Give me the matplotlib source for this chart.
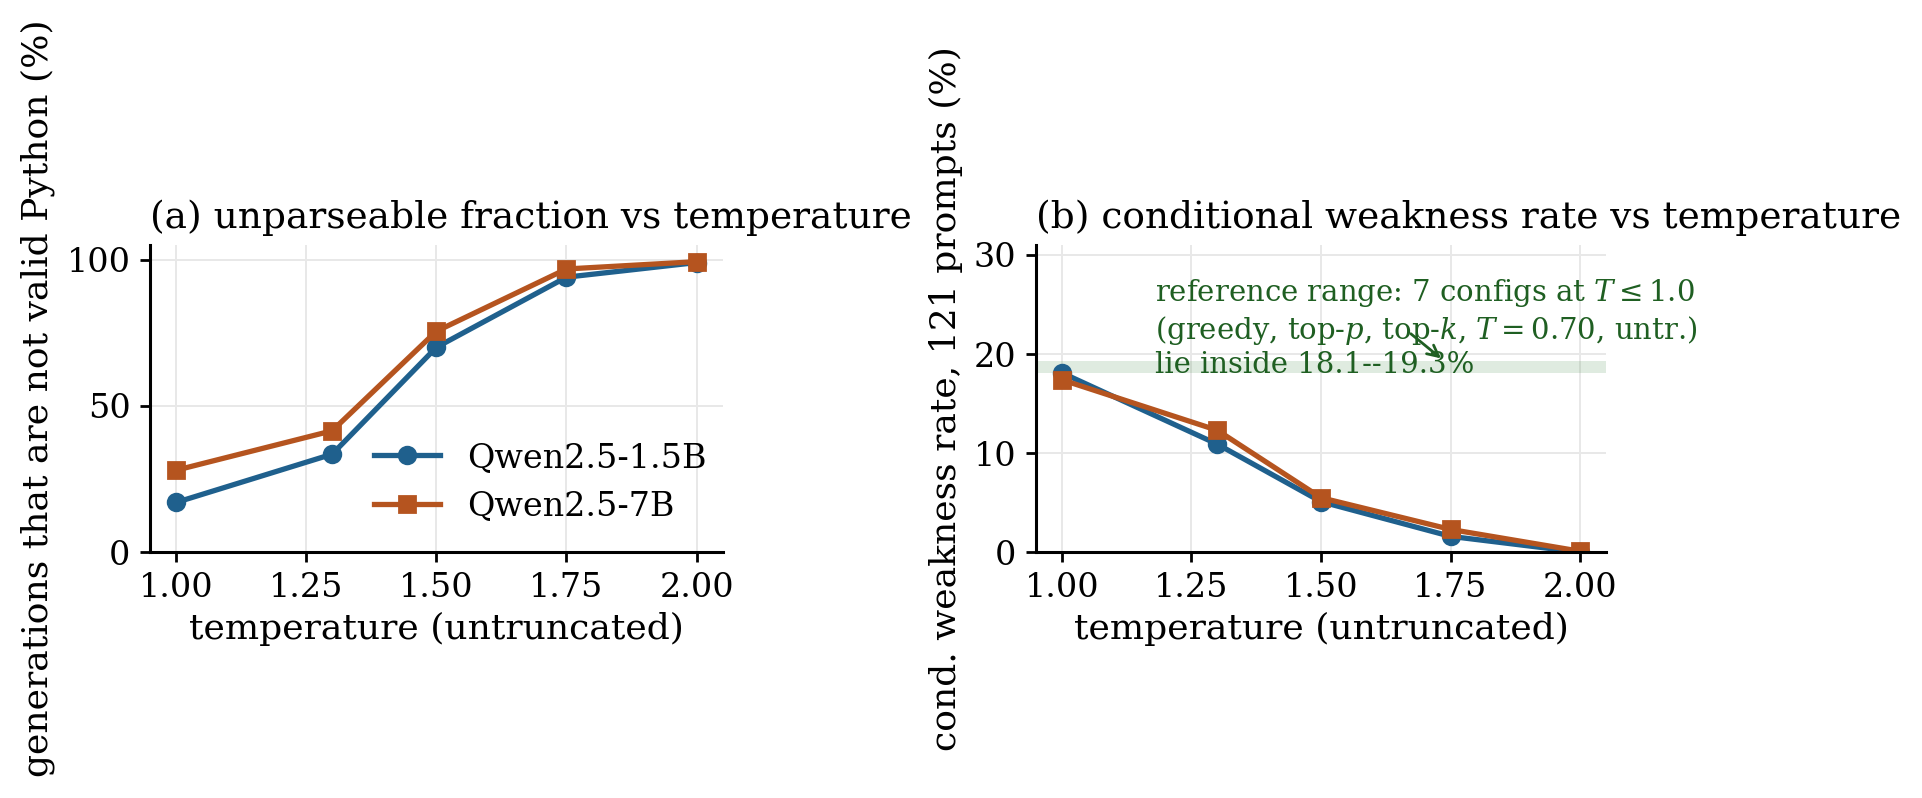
import matplotlib
matplotlib.use("Agg")
import matplotlib.pyplot as plt

plt.rcParams['font.family'] = ['DejaVu Serif']
plt.rcParams['mathtext.fontset'] = 'dejavuserif'

temps = [1.00, 1.30, 1.50, 1.75, 2.00]
models = ["Qwen2.5-1.5B", "Qwen2.5-7B"]

# (a) unparseable fraction (%)
unparse_small = [17.0, 33.5, 70.0, 94.0, 99.0]
unparse_large = [28.0, 41.5, 75.5, 96.8, 99.3]

# (b) conditional weakness rate (%)
weak_small = [18.1, 10.9, 5.1, 1.6, 0.0]
weak_large = [17.4, 12.3, 5.5, 2.3, 0.1]

ref_lo, ref_hi = 18.1, 19.3

blue = '#1f608d'
orange = '#b5541f'
green = '#1f5f22'

fig = plt.figure(figsize=(9.61, 3.99), dpi=200)
ax1 = fig.add_axes([0.078, 0.308, 0.298, 0.385])
ax2 = fig.add_axes([0.539, 0.308, 0.2966, 0.385])

for ax in (ax1, ax2):
    ax.spines['top'].set_visible(False)
    ax.spines['right'].set_visible(False)
    ax.spines['left'].set_linewidth(1.1)
    ax.spines['bottom'].set_linewidth(1.1)
    ax.grid(True, color='#e8e8e8', linewidth=0.7)
    ax.set_axisbelow(True)
    ax.tick_params(labelsize=12, width=1.0)
    ax.set_xticks([1.00, 1.25, 1.50, 1.75, 2.00])
    ax.set_xticklabels(["1.00", "1.25", "1.50", "1.75", "2.00"])
    ax.set_xlabel("temperature (untruncated)", fontsize=13, labelpad=3)

ax1.plot(temps, unparse_small, '-o', color=blue, lw=1.9, ms=6, label=models[0])
ax1.plot(temps, unparse_large, '-s', color=orange, lw=1.9, ms=6, label=models[1])
ax1.set_ylim(0, 105)
ax1.set_yticks([0, 50, 100])
ax1.set_ylabel("generations that are not valid Python (%)", fontsize=13)
ax1.set_title("(a) unparseable fraction vs temperature", loc='left', fontsize=13.5)
ax1.legend(loc='lower right', frameon=False, fontsize=12, bbox_to_anchor=(1.024, 0.0))

ax2.axhspan(ref_lo, ref_hi, color='#2e7d32', alpha=0.15, lw=0)
ax2.plot(temps, weak_small, '-o', color=blue, lw=1.9, ms=6, label=models[0])
ax2.plot(temps, weak_large, '-s', color=orange, lw=1.9, ms=6, label=models[1])
ax2.set_ylim(0, 31)
ax2.set_yticks([0, 10, 20, 30])
ax2.set_ylabel("cond. weakness rate, 121 prompts (%)", fontsize=13)
ax2.set_title("(b) conditional weakness rate vs temperature", loc='left', fontsize=13.5)
ax2.text(1.18, 22.6,
         "reference range: 7 configs at $T \\leq 1.0$\n"
         "(greedy, top-$p$, top-$k$, $T = 0.70$, untr.)\n"
         "lie inside 18.1--19.3%",
         color=green, fontsize=10.5, ha='left', va='center')
ax2.annotate("", xy=(1.74, 19.2), xytext=(1.665, 22.4),
             arrowprops=dict(arrowstyle='->', color=green, lw=1.0))

fig.savefig("out.png", dpi=200)
